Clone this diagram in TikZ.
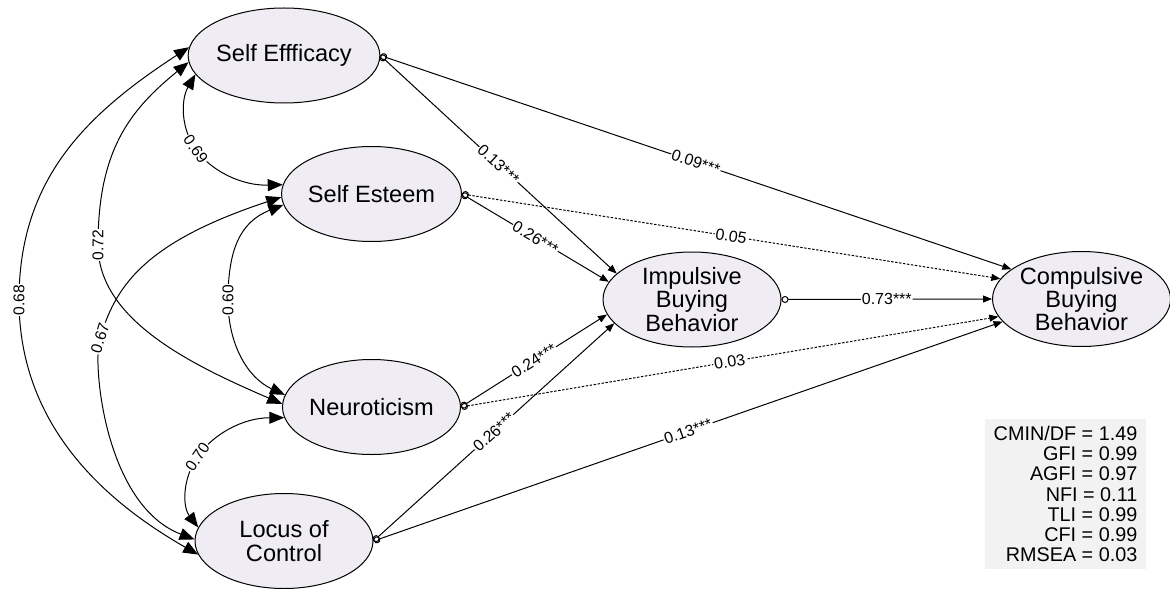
\documentclass[tikz,border=0pt]{standalone}
\usepackage{fontspec}
\setmainfont{Liberation Sans}
\usetikzlibrary{shapes.geometric, arrows.meta}
\definecolor{ellfill}{HTML}{EFEDF3}
\definecolor{boxfill}{HTML}{F2F2F2}
\begin{document}
\begin{tikzpicture}[x=0.5pt, y=-0.5pt,
  lv/.style={ellipse, draw, line width=0.5pt, fill=ellfill, minimum width=89pt, minimum height=47.5pt, inner sep=0pt, align=center, font=\fontsize{11.8}{11.6}\selectfont},
  lab/.style={midway, sloped, fill=white, inner sep=0.5pt, font=\fontsize{8}{9.6}\selectfont},
  clab/.style={fill=white, inner sep=0.5pt, font=\fontsize{7.8}{9.4}\selectfont},
  pathar/.style={line width=0.5pt, {Circle[open,length=3.5pt,width=3.5pt]}-{Triangle[length=4.5pt,width=3.5pt]}},
  dots/.style={dash pattern=on 1.2pt off 0.8pt},
  cov/.style={line width=0.5pt, {Triangle[length=7.5pt,width=6pt]}-{Triangle[length=7.5pt,width=6pt]}},
  fitbox/.style={fill=boxfill, minimum height=75pt, minimum width=80.5pt, align=right, inner xsep=0pt, inner ysep=0pt, font=\fontsize{9.9}{10.1}\selectfont}
]
\useasboundingbox (0,0) rectangle (1170,588);

% latent variables
\node[lv] (se)   at (284,55.5)   {Self Effficacy};
\node[lv] (sest) at (371.5,194)  {Self Esteem};
\node[lv] (neu)  at (371.5,407)  {Neuroticism};
\node[lv] (loc)  at (284,541)    {Locus of\\Control};
\node[lv] (imp)  at (692,299.5)  {Impulsive\\Buying\\Behavior};
\node[lv] (comp) at (1081.5,299) {Compulsive\\Buying\\Behavior};

% regression paths
\draw[pathar] (se.east) -- node[lab]{0.13***} (imp.161.5);
\draw[pathar] (se.east) -- node[lab]{0.09***} (comp.157.4);
\draw[pathar] (sest.east) -- node[lab]{0.26***} (imp.168);
\draw[pathar, dots] (sest.east) -- node[lab]{0.05} (comp.166.5);
\draw[pathar] (imp.east) -- node[lab]{0.73***} (comp.west);
\draw[pathar] (neu.east) -- node[lab]{0.24***} (imp.190);
\draw[pathar, dots] (neu.east) -- node[lab]{0.03} (comp.192);
\draw[pathar] (loc.east) -- node[lab]{0.26***} (imp.197.9);
\draw[pathar] (loc.east) -- node[lab]{0.13***} (comp.196.4);

% covariances
\draw[cov] (se.175) .. controls (85,115) and (19,180) .. (19,300) node[clab, rotate=90]{0.68}
  .. controls (19,410) and (85,490) .. (loc.189);
\draw[cov] (se.184) .. controls (130,110) and (98,150) .. (98,245) node[clab, rotate=90]{0.72}
  .. controls (98,320) and (192,365) .. (neu.178.7);
\draw[cov] (se.192.6) .. controls (180.9,99.45) and (180.45,127.7) .. (195.7,149.3) node[clab, rotate=-55]{0.69}
  .. controls (210.9,170.95) and (241.75,185.9) .. (sest.174);
\draw[cov] (sest.182) .. controls (139,244) and (115,290) .. (100,338) node[clab, rotate=73]{0.67}
  .. controls (92,364) and (105,505) .. (loc.179.4);
\draw[cov] (sest.187.7) .. controls (240,222) and (228,250) .. (228,300) node[clab, rotate=90]{0.60}
  .. controls (228,345) and (248,378) .. (neu.172.3);
\draw[cov] (neu.187) .. controls (242.45,417.8) and (212.5,434.65) .. (197.45,456.8) node[clab, rotate=56]{0.70}
  .. controls (182.4,478.95) and (182.3,506.4) .. (loc.171);

% fit indices
\node[fitbox] (fit) at (1065.5,494) {CMIN/DF = 1.49\\GFI = 0.99\\AGFI = 0.97\\NFI = 0.11\\TLI = 0.99\\CFI = 0.99\\RMSEA = 0.03};
\end{tikzpicture}
\end{document}
